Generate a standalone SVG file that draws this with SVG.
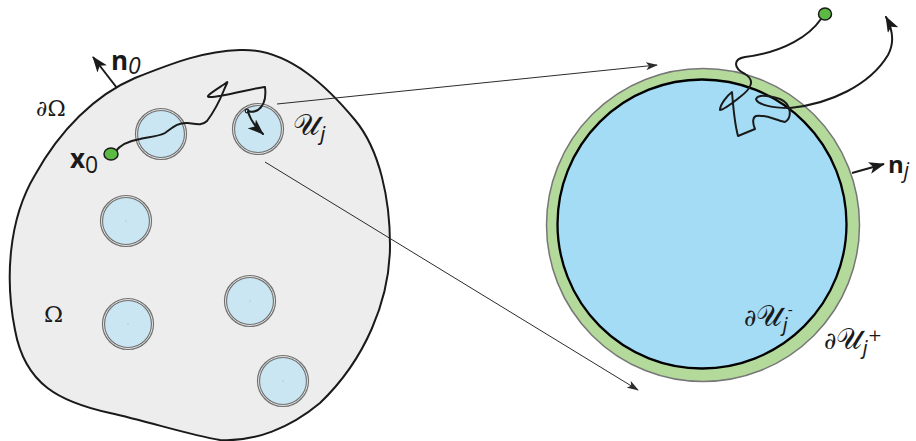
<svg xmlns="http://www.w3.org/2000/svg" width="916" height="441" viewBox="0 0 916 441">
<defs>
<style>
.hole{fill:#c9e6f2;stroke:#707070;stroke-width:3.2}
.holein{fill:none;stroke:#e4e4e4;stroke-width:1}
.walk{fill:none;stroke:#1a1a1a;stroke-width:2;stroke-linejoin:round;stroke-linecap:round}
.conn{fill:none;stroke:#2b2b2b;stroke-width:1}
.lab{font-family:"Open Sans","DejaVu Sans",sans-serif;fill:#1a1a1a}
.math{font-family:"DejaVu Serif","Noto Sans","Liberation Serif",serif;fill:#1a1a1a}
.sub{font-family:"DejaVu Sans","Open Sans",sans-serif;font-style:italic}
</style>
<marker id="thin" markerWidth="12" markerHeight="8" refX="11" refY="4" orient="auto" markerUnits="userSpaceOnUse">
<path d="M0,0 L12,4 L0,8 L3,4 Z" fill="#2b2b2b"/>
</marker>
<marker id="bold" markerWidth="16" markerHeight="12" refX="15" refY="6" orient="auto" markerUnits="userSpaceOnUse">
<path d="M0,0 L16,6 L0,12 L4,6 Z" fill="#1a1a1a"/>
</marker>
</defs>
<rect width="916" height="441" fill="#ffffff"/>

<g id="domain">
<path d="M 240 50 C 290 48, 330 90, 355 120 C 380 150, 390 200, 390 245 C 390 300, 365 360, 320 403 C 290 428, 255 442, 220 440 C 190 435, 150 422, 110 413 C 60 402, 25 385, 15 330 C 5 280, 8 220, 35 175 C 60 130, 95 95, 135 78 C 175 62, 205 51, 240 50 Z" fill="#ededed" stroke="#1a1a1a" stroke-width="2"/>
<text class="math" x="36" y="116" font-size="22">∂Ω</text>
<text class="math" x="44" y="322" font-size="23">Ω</text>
<line x1="117" y1="88" x2="93" y2="57" stroke="#1a1a1a" stroke-width="2" marker-end="url(#bold)"/>
<text class="lab" x="111" y="70" font-size="26" font-weight="bold">n<tspan font-weight="normal" font-style="italic" font-size="23" dy="4">0</tspan></text>
</g>

<g id="hole1"><circle class="hole" cx="161" cy="134" r="24.5"/><circle class="holein" cx="161" cy="134" r="24.5"/></g>
<g id="hole-uj"><circle class="hole" cx="258" cy="129" r="24.5"/><circle class="holein" cx="258" cy="129" r="24.5"/>
<text class="math" x="293" y="135" font-size="30">𝒰<tspan class="sub" font-size="20" dy="6">j</tspan></text></g>
<g id="hole3"><circle class="hole" cx="126" cy="221" r="24.5"/><circle class="holein" cx="126" cy="221" r="24.5"/><circle cx="126" cy="221" r="0.5" fill="#999"/></g>
<g id="hole4"><circle class="hole" cx="128" cy="324" r="24.5"/><circle class="holein" cx="128" cy="324" r="24.5"/><circle cx="128" cy="324" r="0.5" fill="#999"/></g>
<g id="hole5"><circle class="hole" cx="250" cy="301" r="24.5"/><circle class="holein" cx="250" cy="301" r="24.5"/><circle cx="250" cy="301" r="0.5" fill="#999"/></g>
<g id="hole6"><circle class="hole" cx="283" cy="381" r="24.5"/><circle class="holein" cx="283" cy="381" r="24.5"/><circle cx="283" cy="381" r="0.5" fill="#999"/></g>

<g id="walk-left">
<path class="walk" d="M 115 152 C 120 145, 128 141, 140 139 C 150 137, 160 136, 165 133 C 172 128, 178 122, 188 123 C 196 124, 202 126, 207 121 C 213 113, 220 100, 224 90 C 226 85, 229 80, 226 83 C 222 86, 210 93, 208 96 C 207 98, 215 97, 225 95 C 240 92, 255 88, 265 87 C 266 95, 265 105, 258 110 C 254 112, 250 112, 248 111"/>
<circle cx="247" cy="111" r="1.8" fill="none" stroke="#1a1a1a" stroke-width="1.2"/>
<path class="walk" d="M 248 112 Q 252 124, 263 134" marker-end="url(#bold)"/>
<ellipse cx="111" cy="154" rx="7" ry="6" fill="#5cb944" stroke="#1a1a1a" stroke-width="1.5"/>
<text class="lab" x="70" y="168" font-size="26" font-weight="bold">x<tspan font-weight="normal" font-size="23" dy="5">0</tspan></text>
</g>

<g id="zoom-circle">
<circle cx="703" cy="225" r="156.5" fill="#b3d99b" stroke="#777777" stroke-width="1.5"/>
<circle cx="702" cy="224" r="144.5" fill="#a4dcf5" stroke="#000000" stroke-width="2.3"/>
<text class="math" x="744" y="326" font-size="24">∂<tspan font-size="29">𝒰</tspan><tspan class="sub" font-size="19" dy="6">j</tspan><tspan font-size="15" dy="-17">-</tspan></text>
<text class="math" x="824" y="349" font-size="24">∂<tspan font-size="29">𝒰</tspan><tspan class="sub" font-size="19" dy="6">j</tspan><tspan font-size="17" dy="-14">+</tspan></text>
<line x1="852" y1="173" x2="884" y2="164" stroke="#1a1a1a" stroke-width="2" marker-end="url(#bold)"/>
<text class="lab" x="888" y="173" font-size="24" font-weight="bold">n<tspan font-weight="normal" font-style="italic" font-size="21" dy="5">j</tspan></text>
</g>

<g id="walk-right">
<path class="walk" d="M 821 19 C 810 35, 785 52, 745 57 C 733 59, 733 68, 745 74 C 755 80, 752 88, 740 97 C 730 105, 722 110, 720 110 C 720 104, 728 95, 732 92 C 733 105, 735 125, 738 136 L 755 129 C 752 122, 753 117, 756 116 C 765 114, 775 120, 785 122 C 792 118, 792 104, 780 99 C 770 96, 758 94, 756 99 C 757 104, 770 108, 790 108 C 830 104, 870 85, 888 55 C 895 42, 893 30, 886 17" marker-end="url(#bold)"/>
<ellipse cx="825" cy="14" rx="6.5" ry="6" fill="#5cb944" stroke="#1a1a1a" stroke-width="1.5"/>
</g>

<g id="connectors">
<line class="conn" x1="277" y1="104" x2="657" y2="65" marker-end="url(#thin)"/>
<line class="conn" x1="265" y1="162" x2="638" y2="390" marker-end="url(#thin)"/>
</g>
</svg>
